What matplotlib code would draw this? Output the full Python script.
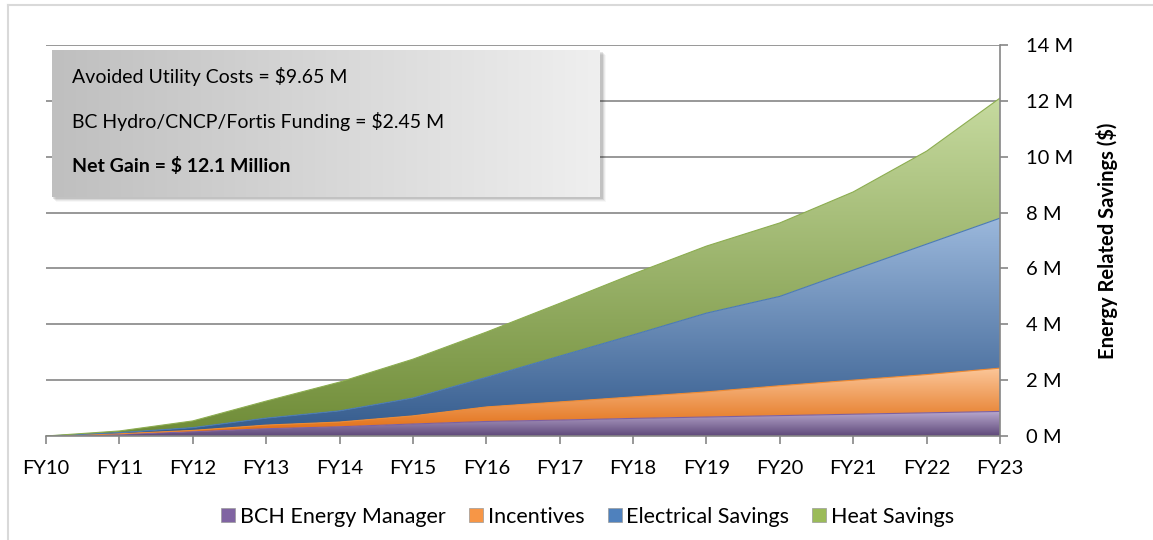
import numpy as np
import matplotlib
matplotlib.use("Agg")
import matplotlib.pyplot as plt
from matplotlib.patches import Rectangle
from matplotlib.colors import LinearSegmentedColormap
from matplotlib.lines import Line2D

categories = ["FY10", "FY11", "FY12", "FY13", "FY14", "FY15", "FY16",
              "FY17", "FY18", "FY19", "FY20", "FY21", "FY22", "FY23"]
# individual series values in $M (stacked)
bch_energy_manager = [0.00, 0.06, 0.15, 0.26, 0.33, 0.43, 0.52, 0.57, 0.63, 0.68, 0.73, 0.78, 0.83, 0.88]
incentives = [0.00, 0.02, 0.05, 0.13, 0.17, 0.29, 0.52, 0.65, 0.77, 0.90, 1.07, 1.22, 1.37, 1.55]
electrical_savings = [0.00, 0.04, 0.10, 0.25, 0.40, 0.64, 1.06, 1.64, 2.22, 2.82, 3.20, 3.94, 4.67, 5.37]
heat_savings = [0.00, 0.06, 0.24, 0.61, 1.03, 1.39, 1.62, 1.89, 2.18, 2.40, 2.63, 2.80, 3.33, 4.30]
series_names = ["BCH Energy Manager", "Incentives", "Electrical Savings", "Heat Savings"]
yticks = [0, 2, 4, 6, 8, 10, 12, 14]
box_lines = ["Avoided Utility Costs = $9.65 M",
             "BC Hydro/CNCP/Fortis Funding = $2.45 M",
             "Net Gain = $ 12.1 Million"]

plt.rcParams['font.family'] = ['Lato', 'DejaVu Sans']

W, H = 1153, 540
fig = plt.figure(figsize=(W / 100, H / 100), dpi=100)

def fx(px):
    return px / W

def fy(py):
    return 1 - py / H

ax = fig.add_axes([fx(46), fy(436), fx(1000) - fx(46), fy(45) - fy(436)])
x = np.arange(len(categories))

series = [bch_energy_manager, incentives, electrical_savings, heat_savings]
grads = [("#5f497a", "#b9a9cf"),
         ("#e0690c", "#fbc699"),
         ("#335a8c", "#9bb8dc"),
         ("#6f8c37", "#c6da9f")]
edge_cols = ["#7d60a0", "#f08a30", "#4a7ab5", "#8cad50"]

ax.set_xlim(0, len(categories) - 1)
ax.set_ylim(0, 14)

bottom = np.zeros(len(categories))
for i, s in enumerate(series):
    top = bottom + np.array(s)
    poly = ax.fill_between(x, bottom, top, facecolor="none", edgecolor="none", zorder=2)
    cmap = LinearSegmentedColormap.from_list("g%d" % i, [grads[i][0], grads[i][1]])
    ymax = top.max()
    grad = np.linspace(0, 1, 256).reshape(-1, 1)
    im = ax.imshow(grad, cmap=cmap, aspect="auto", origin="lower",
                   extent=[0, len(categories) - 1, 0, ymax], zorder=2,
                   interpolation="bilinear")
    im.set_clip_path(poly.get_paths()[0], transform=ax.transData)
    ax.plot(x, top, color=edge_cols[i], lw=0.8, zorder=3)
    bottom = top

ax.set_xlim(0, len(categories) - 1)
ax.set_ylim(0, 14)

grid_col = "#868686"
for t in yticks[1:]:
    ax.axhline(t, color=grid_col, lw=1.2, zorder=1)

for sp in ["top", "left"]:
    ax.spines[sp].set_visible(False)
ax.spines["right"].set_color(grid_col)
ax.spines["bottom"].set_color(grid_col)
ax.spines["right"].set_linewidth(1.2)
ax.spines["bottom"].set_linewidth(1.2)
ax.spines["right"].set_zorder(4)
ax.spines["bottom"].set_zorder(4)

ax.yaxis.tick_right()
ax.yaxis.set_label_position("right")
ax.set_yticks(yticks)
ax.set_yticklabels(["%d M" % t for t in yticks])
ax.set_xticks(x)
ax.set_xticklabels(categories)
ax.tick_params(axis="y", direction="out", length=6, width=1.2, color=grid_col,
               labelsize=14.5, pad=13, labelcolor="black")
ax.tick_params(axis="x", direction="out", length=6, width=1.2, color=grid_col,
               labelsize=14.5, pad=11, labelcolor="black")
ax.set_ylabel("Energy Related Savings ($)", fontsize=14.5, fontweight="bold",
              labelpad=16)

# text box with shadow
bx0, bx1, by0, by1 = 52, 600, 50, 197
for k, a in enumerate([0.10, 0.07, 0.05, 0.03]):
    off = 2 + k
    fig.patches.append(Rectangle((fx(bx0 + off - 1), fy(by1 + off)),
                                 fx(bx1 - bx0 + 2), fy(by0) - fy(by1),
                                 transform=fig.transFigure, facecolor="black",
                                 edgecolor="none", alpha=a, zorder=5))
bax = fig.add_axes([fx(bx0), fy(by1), fx(bx1 - bx0), fy(by0) - fy(by1)], zorder=6)
gcmap = LinearSegmentedColormap.from_list("box", ["#bfbfbf", "#efefef"])
bax.imshow(np.linspace(0, 1, 256).reshape(1, -1), cmap=gcmap, aspect="auto",
           extent=[0, 1, 0, 1], interpolation="bilinear")
bax.set_xlim(0, 1)
bax.set_ylim(0, 1)
bax.axis("off")
line_y = [76, 122, 166]
for j, (txt, py) in enumerate(zip(box_lines, line_y)):
    fig.text(fx(72), fy(py), txt, fontsize=14, va="center", ha="left",
             fontweight="bold" if j == 2 else "normal", zorder=7)

# legend
handles = [Line2D([], [], marker="s", linestyle="none", markersize=10,
                  markerfacecolor=c, markeredgecolor="#9a9a9a", markeredgewidth=0.5)
           for c in ["#8064a2", "#f79646", "#4f81bd", "#9bbb59"]]
fig.legend(handles, series_names, loc="center", bbox_to_anchor=(fx(587), fy(517)),
           ncol=4, frameon=False, fontsize=15.5, handletextpad=0.15,
           columnspacing=1.0, handlelength=0.8)

# outer border
fig.add_artist(Line2D([fx(8), 1], [fy(5), fy(5)], color="#d9d9d9", lw=1.5,
                      transform=fig.transFigure))
fig.add_artist(Line2D([fx(8), fx(8)], [fy(5), 0], color="#d9d9d9", lw=1.5,
                      transform=fig.transFigure))

fig.savefig("out.png", dpi=100, facecolor="white")
